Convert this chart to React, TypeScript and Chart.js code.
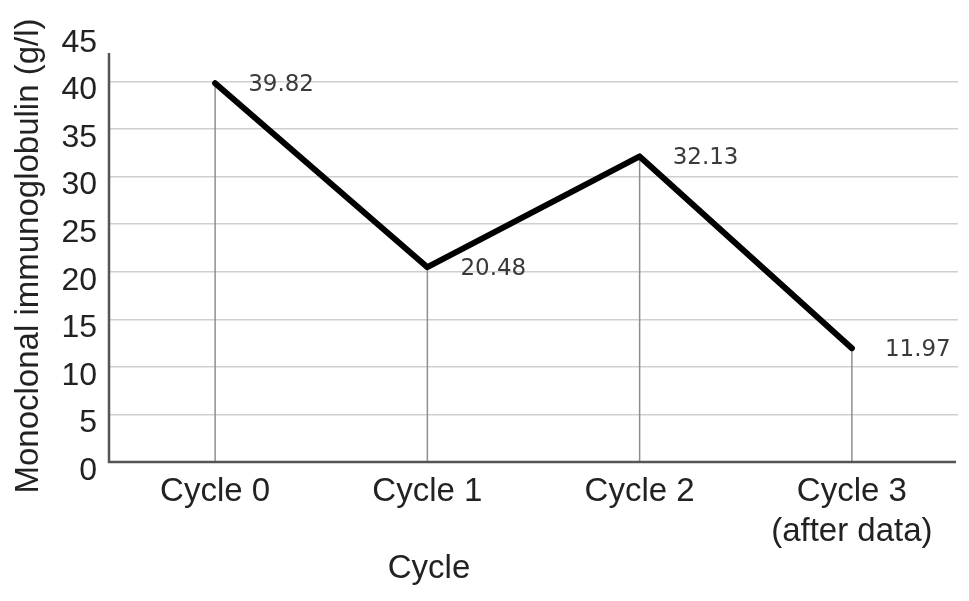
import React, { useEffect, useRef } from "react";
import { Chart, registerables } from "chart.js";

Chart.register(...registerables);

const categories: (string | string[])[] = ["Cycle 0", "Cycle 1", "Cycle 2", ["Cycle 3", "(after data)"]];
const values: number[] = [39.82, 20.48, 32.13, 11.97];
const valueLabels: string[] = ["39.82", "20.48", "32.13", "11.97"];
const yTitle = "Monoclonal immunoglobulin (g/l)";
const xTitle = "Cycle";
const yMin = 0;
const yMax = 45;
const yStep = 5;

const FONT = "'Liberation Sans', Arial, sans-serif";

const decorPlugin = {
  id: "decor",
  beforeDatasetsDraw(chart: any) {
    const { ctx, chartArea } = chart;
    const meta = chart.getDatasetMeta(0);
    ctx.save();
    ctx.strokeStyle = "#8f8f8f";
    ctx.lineWidth = 1.5;
    meta.data.forEach((pt: any) => {
      ctx.beginPath();
      ctx.moveTo(pt.x, pt.y);
      ctx.lineTo(pt.x, chartArea.bottom);
      ctx.stroke();
    });
    ctx.restore();
  },
  afterDatasetsDraw(chart: any) {
    const { ctx, chartArea, scales } = chart;
    const meta = chart.getDatasetMeta(0);
    ctx.save();
    // axis lines
    ctx.strokeStyle = "#555555";
    ctx.lineWidth = 2.5;
    ctx.beginPath();
    ctx.moveTo(chartArea.left, scales.y.getPixelForValue(43));
    ctx.lineTo(chartArea.left, chartArea.bottom);
    ctx.lineTo(chartArea.right - 2, chartArea.bottom);
    ctx.stroke();
    // data labels
    ctx.fillStyle = "#3a3a3a";
    ctx.font = "23px 'DejaVu Sans', sans-serif";
    ctx.textAlign = "left";
    ctx.textBaseline = "middle";
    meta.data.forEach((pt: any, i: number) => {
      ctx.fillText(valueLabels[i], pt.x + 33, pt.y + 2);
    });
    // titles
    ctx.fillStyle = "#222222";
    ctx.font = `33px ${FONT}`;
    ctx.textAlign = "center";
    ctx.textBaseline = "alphabetic";
    ctx.fillText(xTitle, 429, 578);
    ctx.translate(38, 256);
    ctx.rotate(-Math.PI / 2);
    ctx.fillText(yTitle, 0, 0);
    ctx.restore();
  },
};

export default function App() {
  const ref = useRef<HTMLCanvasElement | null>(null);
  useEffect(() => {
    if (!ref.current) return;
    const chart = new Chart(ref.current, {
      type: "line",
      data: {
        labels: categories,
        datasets: [
          {
            data: values,
            borderColor: "#000000",
            borderWidth: 6,
            borderCapStyle: "round",
            borderJoinStyle: "round",
            pointRadius: 0,
            tension: 0,
            fill: false,
          },
        ],
      },
      options: {
        animation: false,
        responsive: false,
        layout: { padding: { top: 34, left: 0, right: 11, bottom: 0 } },
        plugins: { legend: { display: false }, tooltip: { enabled: false } },
        scales: {
          x: {
            offset: true,
            grid: { display: false, drawTicks: false },
            border: { display: false },
            ticks: {
              color: "#222222",
              font: { family: FONT, size: 33, lineHeight: 1.22 },
              padding: 10,
              maxRotation: 0,
              autoSkip: false,
            },
            afterFit(scale: any) {
              scale.height = 139;
            },
          },
          y: {
            min: yMin,
            max: yMax,
            ticks: {
              stepSize: yStep,
              color: "#222222",
              font: { family: FONT, size: 32 },
              padding: 12,
              labelOffset: 9,
            },
            grid: {
              drawTicks: false,
              lineWidth: 1.5,
              color: (c: any) =>
                c.tick && (c.tick.value === yMax || c.tick.value === yMin) ? "rgba(0,0,0,0)" : "#cfcfcf",
            },
            border: { display: false },
            afterFit(scale: any) {
              scale.width = 109;
            },
          },
        },
      },
      plugins: [decorPlugin],
    });
    return () => chart.destroy();
  }, []);
  return (
    <div style={{ position: "absolute", left: 0, top: 0, width: 969, height: 601, background: "#fff" }}>
      <canvas ref={ref} width={969} height={601} style={{ display: "block" }} />
    </div>
  );
}
